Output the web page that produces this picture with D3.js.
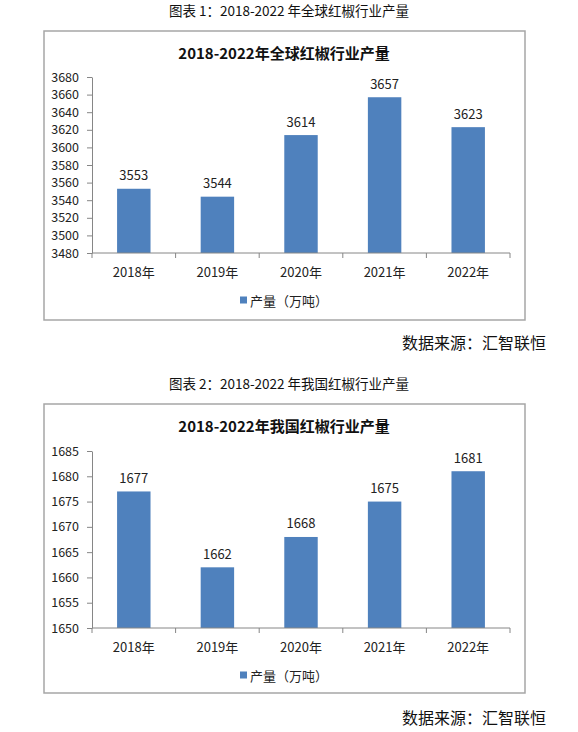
<!DOCTYPE html>
<html>
<head>
<meta charset="utf-8">
<script src="https://cdn.jsdelivr.net/npm/d3@7"></script>
<style>
  body { margin: 0; background: #fff; }
  text { font-family: "Noto Sans CJK SC", "Noto Sans", sans-serif; }
</style>
</head>
<body>
<svg id="page" width="578" height="732"></svg>
<script>
// chart data
var years = ["2018年", "2019年", "2020年", "2021年", "2022年"];
var globalOutput = [3553, 3544, 3614, 3657, 3623];
var globalTicks = [3480, 3500, 3520, 3540, 3560, 3580, 3600, 3620, 3640, 3660, 3680];
var chinaOutput = [1677, 1662, 1668, 1675, 1681];
var chinaTicks = [1650, 1655, 1660, 1665, 1670, 1675, 1680, 1685];
var seriesName = "产量（万吨）";
var source = "数据来源：汇智联恒";

var svg = d3.select("#page");

function drawChart(top, caption, title, values, ticks, plotTop, plotBottom) {
  var g = svg.append("g").attr("transform", "translate(0," + top + ")");

  // caption above the box
  g.append("text")
    .attr("x", 289).attr("y", 10)
    .attr("text-anchor", "middle").attr("dominant-baseline", "central")
    .attr("font-size", "13.5px").attr("fill", "#111")
    .attr("xml:space", "preserve")
    .text(caption);

  // chart frame
  g.append("rect")
    .attr("x", 44).attr("y", 31)
    .attr("width", 481).attr("height", 289)
    .attr("fill", "#fff").attr("stroke", "#a6a6a6").attr("stroke-width", 1.5);

  g.append("text")
    .attr("x", 284).attr("y", 52)
    .attr("text-anchor", "middle").attr("dominant-baseline", "central")
    .attr("font-size", "15px").attr("font-weight", "bold").attr("fill", "#111")
    .text(title);

  var x = d3.scaleBand()
    .domain(years)
    .range([92, 510])
    .paddingInner(0.6)
    .paddingOuter(0.3);

  var y = d3.scaleLinear()
    .domain([ticks[0], ticks[ticks.length - 1]])
    .range([plotBottom, plotTop]);

  // y axis
  var yAxis = g.append("g")
    .attr("transform", "translate(92,0)")
    .call(d3.axisLeft(y).tickValues(ticks).tickFormat(d3.format("d"))
      .tickSize(5).tickPadding(8).tickSizeOuter(0));
  yAxis.select(".domain").attr("stroke", "#868686");
  yAxis.selectAll(".tick line").attr("stroke", "#868686");
  yAxis.selectAll(".tick text")
    .attr("font-family", "Noto Sans CJK SC").attr("font-size", "12.5px").attr("fill", "#222");

  // bars
  g.selectAll("rect.bar")
    .data(values)
    .enter().append("rect")
      .attr("class", "bar")
      .attr("x", function(d, i) { return x(years[i]); })
      .attr("y", function(d) { return y(d); })
      .attr("width", x.bandwidth())
      .attr("height", function(d) { return plotBottom - y(d); })
      .attr("fill", "#4f81bd");

  // value labels
  g.selectAll("text.val")
    .data(values)
    .enter().append("text")
      .attr("class", "val")
      .attr("x", function(d, i) { return x(years[i]) + x.bandwidth() / 2; })
      .attr("y", function(d) { return y(d) - 14; })
      .attr("text-anchor", "middle").attr("dominant-baseline", "central")
      .attr("font-size", "13px").attr("fill", "#222")
      .text(function(d) { return d; });

  // x axis with ticks between categories
  g.append("line")
    .attr("x1", 92).attr("x2", 510)
    .attr("y1", plotBottom).attr("y2", plotBottom)
    .attr("stroke", "#868686");
  g.selectAll("line.xt")
    .data(d3.range(years.length + 1))
    .enter().append("line")
      .attr("class", "xt")
      .attr("x1", function(i) { return 92 + i * x.step(); })
      .attr("x2", function(i) { return 92 + i * x.step(); })
      .attr("y1", plotBottom).attr("y2", plotBottom + 5)
      .attr("stroke", "#868686");

  g.selectAll("text.cat")
    .data(years)
    .enter().append("text")
      .attr("class", "cat")
      .attr("x", function(d) { return x(d) + x.bandwidth() / 2; })
      .attr("y", plotBottom + 18)
      .attr("text-anchor", "middle").attr("dominant-baseline", "central")
      .attr("font-size", "13px").attr("fill", "#222")
      .text(function(d) { return d; });

  // legend
  g.append("rect")
    .attr("x", 240).attr("y", plotBottom + 47 - 3.5)
    .attr("width", 7).attr("height", 7)
    .attr("fill", "#4f81bd");
  g.append("text")
    .attr("x", 250).attr("y", plotBottom + 47)
    .attr("dominant-baseline", "central")
    .attr("font-size", "13px").attr("fill", "#222")
    .text(seriesName);

  // source note
  g.append("text")
    .attr("x", 546).attr("y", plotBottom + 89)
    .attr("text-anchor", "end").attr("dominant-baseline", "central")
    .attr("font-size", "16px").attr("fill", "#111")
    .text(source);
}

drawChart(0, "图表 1：2018-2022 年全球红椒行业产量", "2018-2022年全球红椒行业产量",
  globalOutput, globalTicks, 77, 253);
drawChart(373, "图表 2：2018-2022 年我国红椒行业产量", "2018-2022年我国红椒行业产量",
  chinaOutput, chinaTicks, 78, 255);
</script>
</body>
</html>
